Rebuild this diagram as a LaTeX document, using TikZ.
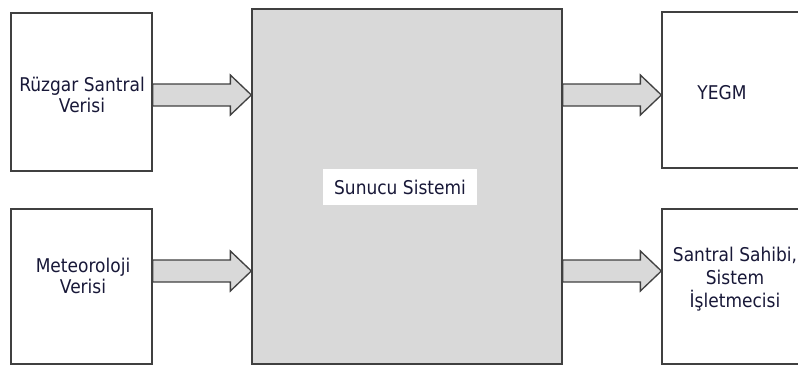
\documentclass[tikz,border=0pt]{standalone}
\usepackage{fontspec}
\setmainfont{DejaVu Sans}[FakeStretch=0.9]
\usetikzlibrary{fit}

\definecolor{edge}{RGB}{64,64,64}
\definecolor{panel}{RGB}{217,217,217}
\definecolor{ink}{RGB}{24,24,56}

\tikzset{
  box/.style={draw=edge, line width=1pt, fill=white, inner sep=0pt},
  server/.style={box, fill=panel},
  caption/.style={text=ink, align=center, inner sep=0pt,
    font=\fontsize{14.2}{15.75}\selectfont},
  flow/.style={draw=edge, line width=1pt, fill=panel, line join=miter},
}

% block arrow from the right side of #1 to the left side of #2, centred at height #3
\newcommand\blockarrow[3]{%
  \coordinate (hb) at ([xshift=-15.75pt]#2.west);
  \draw[flow] (#1.east |- 0,#3-11) -- (hb |- 0,#3-11) -- (hb |- 0,#3-20)
    -- (#2.west |- 0,#3) -- (hb |- 0,#3+20) -- (hb |- 0,#3+11)
    -- (#1.east |- 0,#3+11) -- cycle;
}

\begin{document}
\begin{tikzpicture}[x=0.75pt, y=-0.75pt]
  \useasboundingbox (0,0) rectangle (798,365);

  % boxes
  \node[box, fit={(11,13) (152,171)}] (wind) {};
  \node[box, fit={(11,209) (152,364)}] (meteo) {};
  \node[server, fit={(252,9) (562,364)}] (srv) {};
  \node[box, fit={(662,12) (808,168)}] (yegm) {};
  \node[box, fit={(662,209) (808,364)}] (owner) {};

  % server label on white patch
  \node[fill=white, minimum width=115.5pt, minimum height=27pt, inner sep=0pt] (srvlab) at (400,187) {};
  \node[caption] (srvtxt) at (400,187) {Sunucu Sistemi};

  % texts
  \node[caption] (windtxt) at (82,95) {Rüzgar Santral\\Verisi};
  \node[caption] (meteotxt) at (83,276) {Meteoroloji\\Verisi};
  \node[caption, anchor=base] (yegmtxt) at (722,99) {YEGM};
  \node[caption, font=\fontsize{14.2}{17.25}\selectfont] (ownertxt) at (735,279)
    {Santral Sahibi,\\Sistem\\İşletmecisi};

  % arrows
  \blockarrow{wind}{srv}{95}
  \blockarrow{meteo}{srv}{271}
  \blockarrow{srv}{yegm}{95}
  \blockarrow{srv}{owner}{271}
\end{tikzpicture}
\end{document}
